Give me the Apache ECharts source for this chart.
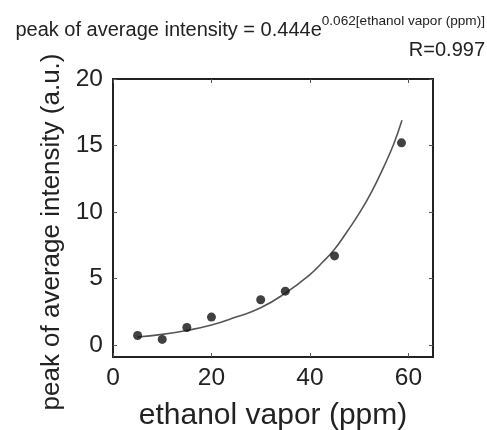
<!DOCTYPE html>
<html>
<head>
  <meta charset="utf-8">
  <title>ethanol vapor</title>
  <script src="https://cdn.jsdelivr.net/npm/echarts@6/dist/echarts.min.js"></script>
  <style>
    html, body { margin: 0; padding: 0; background: #fff; }
    #chart { width: 487px; height: 430px; }
  </style>
</head>
<body>
<div id="chart"></div>
<script>
// measured points
var vaporPpm = [5, 10, 15, 20, 30, 35, 45, 58.6];
var peakIntensity = [0.72, 0.42, 1.32, 2.1, 3.4, 4.05, 6.7, 15.2];

// fitted curve
var fitX = [5, 10, 15, 20, 25, 30, 35, 40, 42.5, 45, 47.5, 50, 52.5, 55, 57, 58.7];
var fitY = [0.6, 0.8, 1.1, 1.5, 2.1, 2.8, 3.9, 5.3, 6.2, 7.2, 8.5, 9.9, 11.5, 13.4, 15.1, 16.9];

var xTicks = [0, 20, 40, 60];
var yTicks = [0, 5, 10, 15, 20];

var pts = vaporPpm.map(function (x, i) { return [x, peakIntensity[i]]; });
var fit = fitX.map(function (x, i) { return [x, fitY[i]]; });

var txt = '#222';
var font = 'Liberation Sans, Arial, sans-serif';

function boxAxis(pos, isX) {
  return {
    type: 'value',
    min: isX ? 0 : -0.9,
    max: isX ? 65 : 20,
    position: pos,
    splitLine: { show: false },
    axisLine: { show: true, onZero: false, lineStyle: { color: '#222', width: 2 } },
    axisTick: { show: true, inside: true, length: 4, customValues: isX ? xTicks : yTicks, lineStyle: { color: '#555' } },
    axisLabel: { show: false }
  };
}

var xMain = boxAxis('bottom', true);
xMain.name = 'ethanol vapor (ppm)';
xMain.nameLocation = 'middle';
xMain.nameGap = 44;
xMain.nameTextStyle = { fontSize: 30, color: txt, fontFamily: font };
xMain.axisLabel = { customValues: xTicks, fontSize: 24.5, color: txt, fontFamily: font, margin: 9 };

var yMain = boxAxis('left', false);
yMain.name = 'peak of average intensity (a.u.)';
yMain.nameLocation = 'middle';
yMain.nameGap = 48;
yMain.nameTextStyle = { fontSize: 26, color: txt, fontFamily: font, padding: [0, 0, 0, -28] };
yMain.axisLabel = { customValues: yTicks, fontSize: 24.5, color: txt, fontFamily: font, margin: 10 };

var chart = echarts.init(document.getElementById('chart'));
chart.setOption({
  animation: false,
  graphic: [{
    type: 'text',
    style: {
      x: 485, y: 27,
      align: 'right', verticalAlign: 'middle',
      text: '{a|peak of average intensity = 0.444e}{b|0.062[ethanol vapor (ppm)]}',
      rich: {
        a: { fontSize: 20, fill: txt, fontFamily: font, lineHeight: 26, verticalAlign: 'bottom' },
        b: { fontSize: 13.6, fill: txt, fontFamily: font, lineHeight: 26, verticalAlign: 'top' }
      }
    }
  }, {
    type: 'text',
    style: {
      x: 485, y: 50,
      align: 'right', verticalAlign: 'middle',
      text: 'R=0.997',
      fontSize: 20, fill: txt, fontFamily: font
    }
  }],
  grid: {
    left: 113, right: 54, top: 79, bottom: 73,
    outerBoundsMode: 'none', containLabel: false,
    show: true, borderColor: '#222', borderWidth: 2
  },
  xAxis: [xMain, boxAxis('top', true)],
  yAxis: [yMain, boxAxis('right', false)],
  series: [{
    type: 'line',
    data: fit,
    smooth: true,
    showSymbol: false,
    lineStyle: { color: '#555', width: 1.6 },
    z: 2
  }, {
    type: 'scatter',
    data: pts,
    symbolSize: 9,
    itemStyle: { color: '#111' },
    z: 3
  }]
});
</script>
</body>
</html>
